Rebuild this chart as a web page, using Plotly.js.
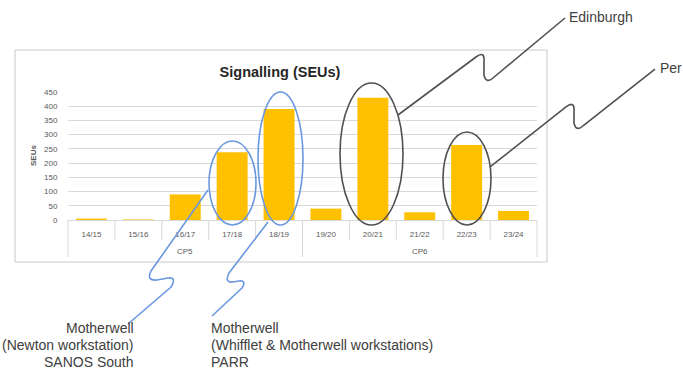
<!DOCTYPE html>
<html>
<head>
<meta charset="utf-8">
<script src="https://cdn.plot.ly/plotly-3.0.1.min.js"></script>
<style>
html,body{margin:0;padding:0;background:#fff;overflow:hidden;}
#chart{width:683px;height:371px;}
</style>
</head>
<body>
<div id="chart"></div>
<script>
// ---- data ----
const categories = ['14/15','15/16','16/17','17/18','18/19','19/20','20/21','21/22','22/23','23/24'];
const seuValues  = [5, 2, 90, 238, 390, 40, 430, 27, 264, 32];
const groupLabels = ['CP5','CP6'];
const yTicks = [0,50,100,150,200,250,300,350,400,450];
const chartTitle = 'Signalling (SEUs)';
const yTitle = 'SEUs';
const calloutEdinburgh = 'Edinburgh';
const calloutPerth = 'Per';
const calloutNewton = ['Motherwell','(Newton workstation)','SANOS South'];
const calloutWhifflet = ['Motherwell','(Whifflet &amp; Motherwell workstations)','PARR'];

// ---- pixel -> paper helpers (page is 683x371, zero margins) ----
const W = 683, H = 371;
const X = p => p / W;
const Y = p => 1 - p / H;
function path(segs){
  return segs.map(s => {
    const out=[];
    for(let i=1;i<s.length;i+=2) out.push(X(s[i]).toFixed(4)+','+Y(s[i+1]).toFixed(4));
    return s[0] + ' ' + out.join(' ');
  }).join(' ');
}

const gridCol = '#d9d9d9';
const txtCol = '#595959';
const blue = '#6a98e0';
const grey = '#505050';

const shapes = [];
// chart border
shapes.push({type:'rect',xref:'paper',yref:'paper',x0:X(15),x1:X(547),y0:Y(262),y1:Y(50),
  line:{color:'#c8c8c8',width:1},layer:'below'});
// category separators in label area
const n = categories.length;
for(let k=0;k<=n;k++){
  const major = (k===0 || k===n || k===n/2);
  shapes.push({type:'line',xref:'x domain',yref:'paper',x0:k/n,x1:k/n,
    y0:Y(220),y1:Y(major?257:240),line:{color:gridCol,width:1}});
}
// ellipses
function ell(x0,x1,y0,y1,c){
  shapes.push({type:'circle',xref:'paper',yref:'paper',x0:X(x0),x1:X(x1),y0:Y(y1),y1:Y(y0),
    line:{color:c,width:1.6},fillcolor:'rgba(0,0,0,0)'});
}
ell(209,256,141,225,blue);
ell(258,303,92,225,blue);
ell(340,403,83,225,grey);
ell(443,491,132,225,grey);
// squiggle leader lines
function sq(segs,c){
  shapes.push({type:'path',xref:'paper',yref:'paper',path:path(segs),line:{color:c,width:1.6}});
}
sq([['M',398,115],['L',476,57],['Q',485,50,484,62],['L',484,75],['Q',486,84,493,78],['L',565,18]],grey);
sq([['M',490,167],['L',566,107],['Q',575,100,574,112],['L',574,123],['Q',576,132,583,126],['L',655,69]],grey);
sq([['M',208,190],['L',151,271],['Q',146,281,157,280],['L',168,278],['Q',177,277,171,287],['L',128,324]],blue);
sq([['M',268,222],['L',229,273],['Q',224,283,233,282],['L',239,281],['Q',247,280,242,288],['L',212,316]],blue);

const ann = [];
// group labels
groupLabels.forEach((g,i)=>{
  ann.push({xref:'x domain',yref:'paper',x:(i+0.5)/groupLabels.length,y:Y(252),text:g,showarrow:false,
    xanchor:'center',yanchor:'middle',font:{family:'Liberation Sans',size:8,color:txtCol}});
});
// y title
ann.push({xref:'paper',yref:'paper',x:X(33),y:Y(156),text:'<b>'+yTitle+'</b>',textangle:-90,showarrow:false,
  xanchor:'center',yanchor:'middle',font:{family:'Liberation Sans',size:8,color:txtCol}});
// callout labels
const cf = {family:'Liberation Sans',size:14,color:'#404040'};
ann.push({xref:'paper',yref:'paper',x:X(567),y:Y(17),text:calloutEdinburgh,showarrow:false,xanchor:'left',yanchor:'middle',font:cf});
ann.push({xref:'paper',yref:'paper',x:X(658),y:Y(68),text:calloutPerth,showarrow:false,xanchor:'left',yanchor:'middle',font:cf});
const lineY = [328,345,362];
calloutNewton.forEach((t,i)=>{
  ann.push({xref:'paper',yref:'paper',x:X(136),y:Y(lineY[i]),text:t,showarrow:false,xanchor:'right',yanchor:'middle',font:cf});
});
calloutWhifflet.forEach((t,i)=>{
  ann.push({xref:'paper',yref:'paper',x:X(209),y:Y(lineY[i]),text:t,showarrow:false,xanchor:'left',yanchor:'middle',font:cf});
});

const data = [{
  type:'bar', x:categories, y:seuValues,
  marker:{color:'#FFC000',line:{width:0}},
  hoverinfo:'x+y'
}];

const layout = {
  width:W, height:H,
  margin:{l:0,r:0,t:0,b:0},
  paper_bgcolor:'#fff', plot_bgcolor:'#fff',
  showlegend:false,
  bargap:0.34,
  title:{text:chartTitle,x:X(280),y:Y(72),xanchor:'center',yanchor:'middle',xref:'paper',yref:'paper',
    font:{family:'Liberation Sans',size:14.5,weight:'bold',color:'#262626'}},
  xaxis:{
    type:'category', domain:[X(68),X(537)],
    showgrid:false, zeroline:false, showline:true, linecolor:gridCol, linewidth:1,
    ticks:'outside', ticklen:6, tickcolor:'rgba(0,0,0,0)',
    tickfont:{family:'Liberation Sans',size:8,color:txtCol},
    fixedrange:true
  },
  yaxis:{
    domain:[Y(220),Y(92)], range:[0,450], tickvals:yTicks,
    showgrid:true, gridcolor:gridCol, gridwidth:1, zeroline:false, showline:false,
    ticks:'outside', ticklen:8, tickcolor:'rgba(0,0,0,0)',
    tickfont:{family:'Liberation Sans',size:8,color:txtCol},
    fixedrange:true
  },
  shapes:shapes,
  annotations:ann
};

Plotly.newPlot('chart', data, layout, {displayModeBar:false, staticPlot:true});
</script>
</body>
</html>
